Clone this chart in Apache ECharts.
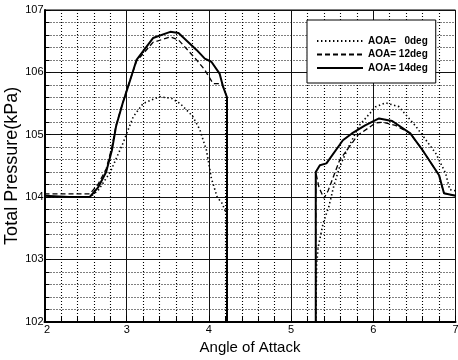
<!DOCTYPE html>
<html><head><meta charset="utf-8">
<script src="https://cdn.jsdelivr.net/npm/echarts@6/dist/echarts.min.js"></script>
<style>html,body{margin:0;padding:0;background:#fff}#c{width:458px;height:360px}</style>
</head><body><div id="c"></div>
<script>
// ---- data ----
const seriesNames = ['AOA=   0deg', 'AOA= 12deg', 'AOA= 14deg'];
const xTickValues = [2, 3, 4, 5, 6, 7];
const yTickValues = [102, 103, 104, 105, 106, 107];

// AOA = 0 deg
const x0 = [2, 2.3, 2.55, 2.65, 2.8, 2.95, 3.08, 3.2, 3.4, 3.55, 3.65, 3.8, 3.89, 3.97, 4.03, 4.1, 4.16, 4.21, 4.22, 4.7,
            5.30, 5.31, 5.33, 5.39, 5.46, 5.52, 5.59, 5.68, 5.83, 6.03, 6.15, 6.31, 6.52, 6.76, 6.88, 6.93, 7.0];
const y0 = [104.0, 104.0, 104.0, 104.1, 104.4, 104.85, 105.29, 105.5, 105.61, 105.58, 105.5, 105.3, 105.08, 104.75, 104.3, 104.0, 103.9, 103.74, 102, '-',
            102, 102.9, 103.2, 103.58, 103.85, 104.18, 104.48, 104.75, 105.15, 105.45, 105.51, 105.45, 105.13, 104.7, 104.38, 104.12, 104.1];

// AOA = 12 deg
const x12 = [2, 2.3, 2.55, 2.65, 2.75, 2.82, 2.87, 2.95, 3.0, 3.06, 3.12, 3.32, 3.53, 3.63, 3.85, 3.95, 4.05, 4.16, 4.22, 4.22, 4.7,
             5.30, 5.30, 5.34, 5.40, 5.45, 5.59, 5.81, 6.03, 6.12, 6.27, 6.45, 6.6, 6.8, 6.86, 7.0];
const y12 = [104.05, 104.05, 104.05, 104.2, 104.45, 104.8, 105.15, 105.5, 105.72, 105.95, 106.18, 106.48, 106.57, 106.52, 106.2, 106.04, 105.82, 105.82, 105.6, 102, '-',
             102, 104.4, 104.15, 103.98, 104.1, 104.59, 104.99, 105.19, 105.2, 105.15, 105.02, 104.75, 104.35, 104.06, 104.02];

// AOA = 14 deg
const x14 = [2, 2.3, 2.55, 2.65, 2.75, 2.82, 2.87, 2.95, 3.0, 3.06, 3.12, 3.32, 3.53, 3.63, 3.85, 3.95, 4.03, 4.13, 4.17, 4.22, 4.22, 4.7,
             5.30, 5.30, 5.35, 5.43, 5.63, 5.74, 5.9, 6.07, 6.23, 6.45, 6.6, 6.8, 6.86, 7.0];
const y14 = [104.02, 104.0, 104.0, 104.15, 104.4, 104.75, 105.13, 105.5, 105.7, 105.95, 106.2, 106.55, 106.65, 106.63, 106.36, 106.22, 106.17, 105.98, 105.78, 105.6, 102, '-',
             102, 104.4, 104.51, 104.54, 104.91, 105.02, 105.15, 105.26, 105.22, 105.02, 104.75, 104.35, 104.06, 104.02];

// ---- chart ----
const zip = (xs, ys) => xs.map((x, i) => [x, ys[i]]);
const FONT = 'Liberation Sans, Arial, sans-serif';
const chart = echarts.init(document.getElementById('c'), null, {renderer: 'canvas'});
const styles = [
  {type: [1.4, 2.6], width: 1.6},
  {type: [5, 3], width: 1.3},
  {type: 'solid', width: 2}
];
const datas = [zip(x0, y0), zip(x12, y12), zip(x14, y14)];

chart.setOption({
  animation: false,
  backgroundColor: '#fff',
  grid: {left: 44.5, right: 2.5, top: 10, bottom: 38.3, containLabel: false, outerBoundsMode: 'none',
         show: true, borderColor: '#000', borderWidth: 1, backgroundColor: 'transparent'},
  legend: {
    data: seriesNames,
    orient: 'vertical',
    left: 307, top: 20,
    padding: [15, 8, 9, 9],
    itemWidth: 46, itemHeight: 12, itemGap: 1.5,
    backgroundColor: '#fff', borderColor: '#000', borderWidth: 1, borderRadius: 0,
    itemStyle: {opacity: 0},
    textStyle: {fontFamily: FONT, fontSize: 10, fontWeight: 'bold', color: '#000', lineHeight: 12}
  },
  xAxis: {
    type: 'value', min: 2, max: 7, interval: 1,
    name: 'Angle of Attack', nameLocation: 'middle', nameGap: 19, nameMoveOverlap: false,
    nameTextStyle: {fontFamily: FONT, fontSize: 15, color: '#000'},
    axisLine: {show: true, onZero: false, lineStyle: {color: '#000', width: 2}},
    axisTick: {show: true, inside: true, length: 6, lineStyle: {color: '#000'}},
    minorTick: {show: true, splitNumber: 5, length: 5, lineStyle: {color: '#000'}},
    axisLabel: {
      fontFamily: FONT, fontSize: 11, color: '#000', margin: 3,
      formatter: v => xTickValues.includes(v) ? (v === 2 ? '{f|2}' : String(v)) : '',
      rich: {f: {fontFamily: FONT, fontSize: 11, color: '#000', padding: [0, 0, 0, 5]}}
    },
    splitLine: {show: true, lineStyle: {color: '#111', width: 1}},
    minorSplitLine: {show: true, lineStyle: {color: '#000', width: 1.1, type: [1, 2]}}
  },
  yAxis: {
    type: 'value', min: 102, max: 107, interval: 1,
    name: 'Total Pressure(kPa)', nameLocation: 'middle', nameGap: 23, nameMoveOverlap: false,
    nameTextStyle: {fontFamily: FONT, fontSize: 18, color: '#000'},
    axisLine: {show: true, onZero: false, lineStyle: {color: '#000', width: 2}},
    axisTick: {show: true, inside: true, length: 6, lineStyle: {color: '#000'}},
    minorTick: {show: true, splitNumber: 5, length: 5, lineStyle: {color: '#000'}},
    axisLabel: {fontFamily: FONT, fontSize: 11, color: '#000', margin: 1,
      formatter: v => yTickValues.includes(v) ? String(v) : ''},
    splitLine: {show: true, lineStyle: {color: '#111', width: 1}},
    minorSplitLine: {show: true, lineStyle: {color: '#000', width: 1.1, type: [1, 2]}}
  },
  series: seriesNames.map((n, i) => ({
    name: n, type: 'line', data: datas[i], symbol: 'none', showSymbol: false,
    connectNulls: false, clip: true,
    lineStyle: {color: '#000', width: styles[i].width, type: styles[i].type},
    itemStyle: {color: '#000'},
    z: 3 + i
  }))
});
</script></body></html>
